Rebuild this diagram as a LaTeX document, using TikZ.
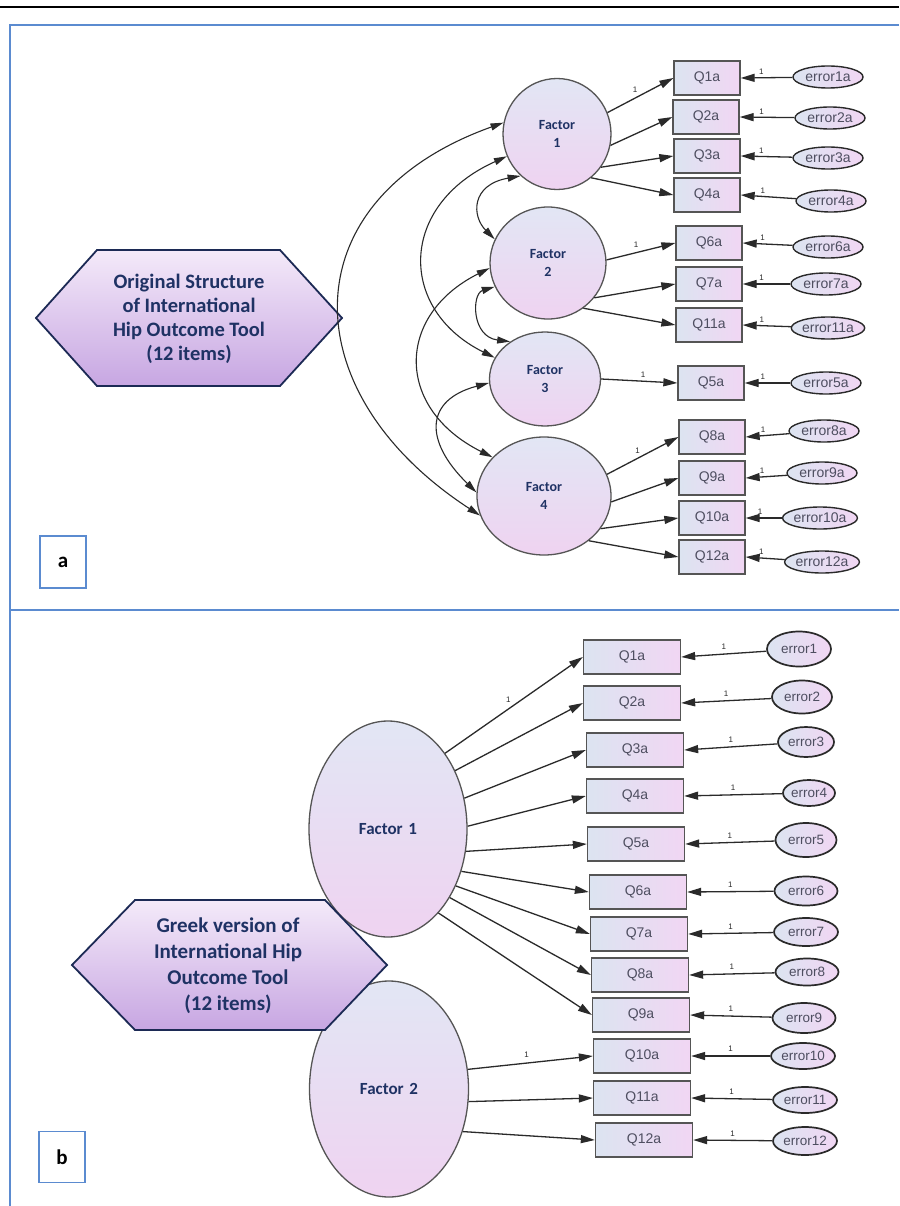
\documentclass[tikz,border=0pt]{standalone}
\usepackage{fontspec}
\setmainfont{Carlito}
\newfontfamily\arialf{Liberation Sans}
\usetikzlibrary{shapes.geometric,arrows.meta}
\definecolor{navy}{HTML}{1F3264}
\definecolor{pblue}{HTML}{5B8BD0}
\definecolor{qL}{HTML}{DCE4F1}
\definecolor{qR}{HTML}{F1D6F3}
\definecolor{fT}{HTML}{E2E6F4}
\definecolor{fB}{HTML}{EFD3F1}
\definecolor{hT}{HTML}{F4EAF9}
\definecolor{hB}{HTML}{C7A6E2}
\definecolor{hD}{HTML}{1C2A55}
\definecolor{lc}{HTML}{2A2A2A}
\definecolor{qtext}{HTML}{4E4E60}
\begin{document}
\begin{tikzpicture}[x=1pt,y=-1pt,
 obs/.style={rectangle, draw=lc!80, line width=1.3pt, left color=qL, right color=qR, inner sep=0pt, minimum width=66pt, minimum height=34pt, font=\arialf\fontsize{14}{14}\selectfont, text=qtext},
 obsb/.style={obs, minimum width=97pt},
 err/.style={ellipse, draw=lc, line width=1.4pt, left color=qL, right color=qR, inner sep=0pt, minimum width=70pt, minimum height=22pt, font=\arialf\fontsize{14}{14}\selectfont, text=qtext},
 errb/.style={err, line width=1.7pt, minimum width=63pt, minimum height=29pt, font=\arialf\fontsize{13.5}{13.5}\selectfont},
 fac/.style={ellipse, draw=lc!80, line width=1.3pt, top color=fT, bottom color=fB, inner sep=0pt, align=center, font=\bfseries\fontsize{14}{18}\selectfont, text=navy},
 ld/.style={draw=lc, line width=1.3pt, -{Triangle[length=14pt,width=8pt]}},
 cov/.style={draw=lc, line width=1.1pt, {Triangle[length=13pt,width=7pt]}-{Triangle[length=13pt,width=7pt]}},
 one/.style={font=\arialf\fontsize{8}{8}\selectfont, text=lc, inner sep=0.5pt},
 hex/.style={draw=hD, line width=1.8pt, top color=hT, bottom color=hB},
 hext/.style={align=center, text=navy, font=\bfseries\fontsize{20.5}{24}\selectfont},
 tag/.style={draw=pblue, line width=1.2pt, minimum width=46pt, minimum height=52pt, font=\bfseries\fontsize{21}{21}\selectfont, inner sep=0pt}
]
\useasboundingbox (0,0) rectangle (899,1206);
\fill[white] (0,0) rectangle (899,1206);
% frame
\draw[black, line width=1.5pt] (0,7) -- (899,7);
\draw[pblue, line width=1.3pt] (899,25) -- (10,25) -- (10,1206);
\draw[pblue, line width=1.3pt] (10,610) -- (899,610);

% ---------------- panel a ----------------
\path[hex] (36,318) -- (97,250) -- (280,250) -- (342,318) -- (280,386) -- (97,386) -- cycle;
\node[hext] (hexa) at (189,319) {Original Structure\\of International\\Hip Outcome Tool\\(12 items)};

\node[fac, minimum width=108pt, minimum height=111pt] (f1) at (557,134) {Factor\\1};
\node[fac, minimum width=116pt, minimum height=112pt] (f2) at (548,263) {Factor\\2};
\node[fac, minimum width=111pt, minimum height=94pt] (f3) at (545,379) {Factor\\3};
\node[fac, minimum width=134pt, minimum height=118pt] (f4) at (544,496) {Factor\\4};

\node[obs] (q1a) at (707,78) {Q1a};
\node[obs] (q2a) at (706,117) {Q2a};
\node[obs] (q3a) at (707,156) {Q3a};
\node[obs] (q4a) at (707,195) {Q4a};
\node[obs] (q6a) at (709,243) {Q6a};
\node[obs] (q7a) at (709,284) {Q7a};
\node[obs] (q11a) at (709,325) {Q11a};
\node[obs] (q5a) at (711,383) {Q5a};
\node[obs] (q8a) at (712,437) {Q8a};
\node[obs] (q9a) at (712,478) {Q9a};
\node[obs] (q10a) at (712,518) {Q10a};
\node[obs] (q12a) at (712,557) {Q12a};

\node[err] (e1a) at (828,77) {error1a};
\node[err] (e2a) at (830,118) {error2a};
\node[err] (e3a) at (828,158) {error3a};
\node[err] (e4a) at (831,201) {error4a};
\node[err] (e6a) at (828,247) {error6a};
\node[err] (e7a) at (826,284) {error7a};
\node[err] (e11a) at (828,328) {error11a};
\node[err] (e5a) at (826,383) {error5a};
\node[err] (e8a) at (824,431) {error8a};
\node[err] (e9a) at (822,473) {error9a};
\node[err] (e10a) at (820,518) {error10a};
\node[err] (e12a) at (822,562) {error12a};

% loadings
\draw[ld] (f1.23) -- node[one,pos=0.42,above=4pt]{1} (q1a.west);
\draw[ld] (f1.-12) -- (q2a.west);
\draw[ld] (f1.-37) -- (q3a.west);
\draw[ld] (f1.-52) -- (q4a.west);
\draw[ld] (f2.3) -- node[one,pos=0.43,above=4pt]{1} (q6a.west);
\draw[ld] (f2.-37) -- (q7a.west);
\draw[ld] (f2.-52) -- (q11a.west);
\draw[ld] (f3.0) -- node[one,pos=0.55,above=3pt]{1} (q5a.west);
\draw[ld] (f4.19) -- node[one,pos=0.43,above=4pt]{1} (q8a.west);
\draw[ld] (f4.-5) -- (q9a.west);
\draw[ld] (f4.-30) -- (q10a.west);
\draw[ld] (f4.-45) -- (q12a.west);

% errors
\foreach \e/\q in {e1a/q1a,e2a/q2a,e3a/q3a,e4a/q4a,e6a/q6a,e7a/q7a,e11a/q11a,e5a/q5a,e8a/q8a,e9a/q9a,e10a/q10a,e12a/q12a}
  \draw[ld] (\e) -- node[one,pos=0.6,above=2pt]{1} (\q.east);

% covariances
\draw[cov] (f1.168) .. controls +(-215,77) and +(-189,-123) .. (f4.197);
\draw[cov] (f1.204) .. controls +(-109,49) and +(-97,-48) .. (f3.157);
\draw[cov] (f1.229) .. controls +(-50,9) and +(-23,-23) .. (f2.156);
\draw[cov] (f2.185) .. controls +(-94,47) and +(-98,-49) .. (f4.143);
\draw[cov] (f2.204) .. controls +(-23,7) and +(-39,-5) .. (f3.133);
\draw[cov] (f3.184) .. controls +(-64,17) and +(-53,-52) .. (f4.177);

\node[tag] (taga) at (63,562) {a};

% ---------------- panel b ----------------
\node[fac, minimum width=158pt, minimum height=216pt, font=\bfseries\fontsize{17}{20}\selectfont] (g1) at (388,829) {Factor\,\,1};
\node[fac, minimum width=159pt, minimum height=216pt, font=\bfseries\fontsize{17}{20}\selectfont] (g2) at (389,1089) {Factor\,\,2};

\path[hex] (72,965) -- (135,900) -- (325,900) -- (387,965) -- (325,1030) -- (135,1030) -- cycle;
\node[hext, font=\bfseries\fontsize{21}{26}\selectfont] (hexb) at (228,966) {Greek version of\\International Hip\\Outcome Tool\\(12 items)};

\node[obsb] (p1) at (632,657) {Q1a};
\node[obsb] (p2) at (632,703) {Q2a};
\node[obsb] (p3) at (635,750) {Q3a};
\node[obsb] (p4) at (635,796) {Q4a};
\node[obsb] (p5) at (636,844) {Q5a};
\node[obsb] (p6) at (638,892) {Q6a};
\node[obsb] (p7) at (639,934) {Q7a};
\node[obsb] (p8) at (640,975) {Q8a};
\node[obsb] (p9) at (641,1015) {Q9a};
\node[obsb] (p10) at (642,1056) {Q10a};
\node[obsb] (p11) at (642,1098) {Q11a};
\node[obsb] (p12) at (644,1140) {Q12a};

\node[errb, minimum width=64pt, minimum height=35pt] (r1) at (799,649) {error1};
\node[errb, minimum width=60pt, minimum height=33pt] (r2) at (802,697) {error2};
\node[errb, minimum width=56pt, minimum height=30pt] (r3) at (806,742) {error3};
\node[errb, minimum width=52pt, minimum height=26pt] (r4) at (809,793) {error4};
\node[errb, minimum width=61pt, minimum height=34pt] (r5) at (806,840) {error5};
\node[errb] (r6) at (806,891) {error6};
\node[errb, minimum width=64pt, minimum height=28pt] (r7) at (806,932) {error7};
\node[errb, minimum width=63pt, minimum height=27pt] (r8) at (807,972) {error8};
\node[errb, minimum width=63pt, minimum height=30pt] (r9) at (804,1018) {error9};
\node[errb, minimum width=64pt, minimum height=26pt] (r10) at (803,1056) {error10};
\node[errb, minimum width=64pt, minimum height=26pt] (r11) at (805,1100) {error11};
\node[errb, minimum width=64pt, minimum height=28pt] (r12) at (805,1141) {error12};

\draw[ld] (g1.53) -- node[one,pos=0.46,above=5pt]{1} (p1.west);
\draw[ld] (g1.41) -- (p2.west);
\draw[ld] (g1.22) -- (p3.west);
\draw[ld] (g1.2) -- (p4.west);
\draw[ld] (g1.-16) -- (p5.west);
\draw[ld] (g1.-30) -- (p6.west);
\draw[ld] (g1.-40) -- (p7.west);
\draw[ld] (g1.-48) -- (p8.west);
\draw[ld] (g1.-59) -- (p9.west);
\draw[ld] (g2.14) -- node[one,pos=0.47,above=4pt]{1} (p10.west);
\draw[ld] (g2.-9) -- (p11.west);
\draw[ld] (g2.-30) -- (p12.west);

\foreach \e/\q in {r1/p1,r2/p2,r3/p3,r4/p4,r5/p5,r6/p6,r7/p7,r8/p8,r9/p9,r10/p10,r11/p11,r12/p12}
  \draw[ld] (\e) -- node[one,pos=0.5,above=3pt]{1} (\q.east);

\node[tag, minimum height=51pt] (tagb) at (62,1157) {b};
\end{tikzpicture}
\end{document}
